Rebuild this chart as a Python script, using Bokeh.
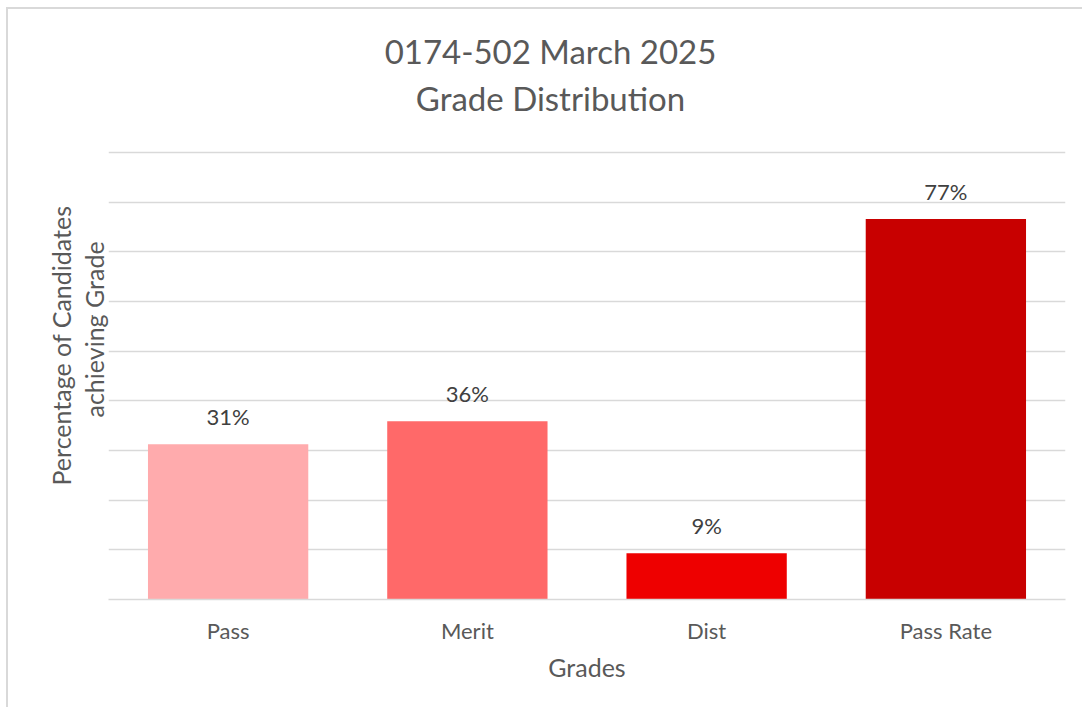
from bokeh.plotting import figure
from bokeh.models import ColumnDataSource, FactorRange, Range1d, FixedTicker, Title, Label
from bokeh.core.properties import value
from bokeh.embed import file_html
from bokeh.resources import INLINE

# ---- data ----
grades = ["Pass", "Merit", "Dist", "Pass Rate"]
shares = [0.3125, 0.359, 0.093, 0.766]
bar_colors = ["#FFABAD", "#FF6969", "#EE0000", "#C80000"]
grid_ticks = [0.0, 0.1, 0.2, 0.3, 0.4, 0.5, 0.6, 0.7, 0.8, 0.9]
title_lines = ["0174-502 March 2025", "Grade Distribution"]
y_title_lines = ["Percentage of Candidates", "achieving Grade"]
x_title = "Grades"

labels = ["{:.0f}%".format(round(v * 100)) for v in shares]

FONT = "Lato"
# canvas origin sits at page (8, 9) because of margin + border
W, H = 1076, 700
FL, FR, FB = 100, 1057, 590   # frame edges in canvas px; frame reaches the canvas top
PX_PER_UNIT = 447 / 0.9       # 0 -> 0.9 spans 447 px
Y_END = FB / PX_PER_UNIT      # top of frame (canvas top) in data units

src = ColumnDataSource(dict(g=grades, v=shares, c=bar_colors, t=labels))

p = figure(width=W, height=H, output_backend="svg", toolbar_location=None,
           x_range=FactorRange(*grades, range_padding=0),
           y_range=Range1d(0, Y_END),
           min_border_left=FL, min_border_right=W - FR,
           min_border_top=0, min_border_bottom=H - FB,
           styles={"margin-left": "6px", "margin-top": "7px",
                   "border-left": "2px solid #D9D9D9", "border-top": "2px solid #D9D9D9"})
p.title = None
p.outline_line_color = None
p.background_fill_color = "white"
p.border_fill_color = "white"

p.vbar(x="g", top="v", width=0.67, color="c", line_color=None, source=src)
p.text(x="g", y="v", text="t", source=src, text_align="center", text_baseline="bottom",
       y_offset=-14, text_font=value(FONT), text_font_size="22px", text_color="#404040")

# chart title: two centred lines (frame-relative screen units, y measured up from frame bottom)
for i, t in enumerate(title_lines):
    p.add_layout(Label(x=442, y=549 - 47 * i, x_units="screen", y_units="screen",
                       text=t, text_align="center", text_baseline="middle",
                       text_font=FONT, text_font_size="33px", text_color="#595959"))

# y title lines as left-side titles: inner first
p.add_layout(Title(text=y_title_lines[1], align="left", offset=182, standoff=0,
                   text_font=FONT, text_font_size="25px", text_font_style="normal",
                   text_color="#595959"), "left")
p.add_layout(Title(text=y_title_lines[0], align="left", offset=114, standoff=1,
                   text_font=FONT, text_font_size="25px", text_font_style="normal",
                   text_color="#595959"), "left")

p.yaxis.visible = False
p.ygrid.ticker = FixedTicker(ticks=grid_ticks)
p.ygrid.grid_line_color = "#D9D9D9"
p.ygrid.grid_line_width = 1.3
p.xgrid.visible = False

xa = p.xaxis[0]
xa.axis_line_color = "#D9D9D9"
xa.axis_line_width = 1.5
xa.major_tick_line_color = None
xa.minor_tick_line_color = None
xa.major_label_text_font = FONT
xa.major_label_text_font_size = "22px"
xa.major_label_text_color = "#595959"
xa.major_label_standoff = 11
xa.axis_label = x_title
xa.axis_label_text_font = FONT
xa.axis_label_text_font_size = "25px"
xa.axis_label_text_font_style = "normal"
xa.axis_label_text_color = "#595959"
xa.axis_label_standoff = 5

open("out.html", "w").write(file_html(p, INLINE))
